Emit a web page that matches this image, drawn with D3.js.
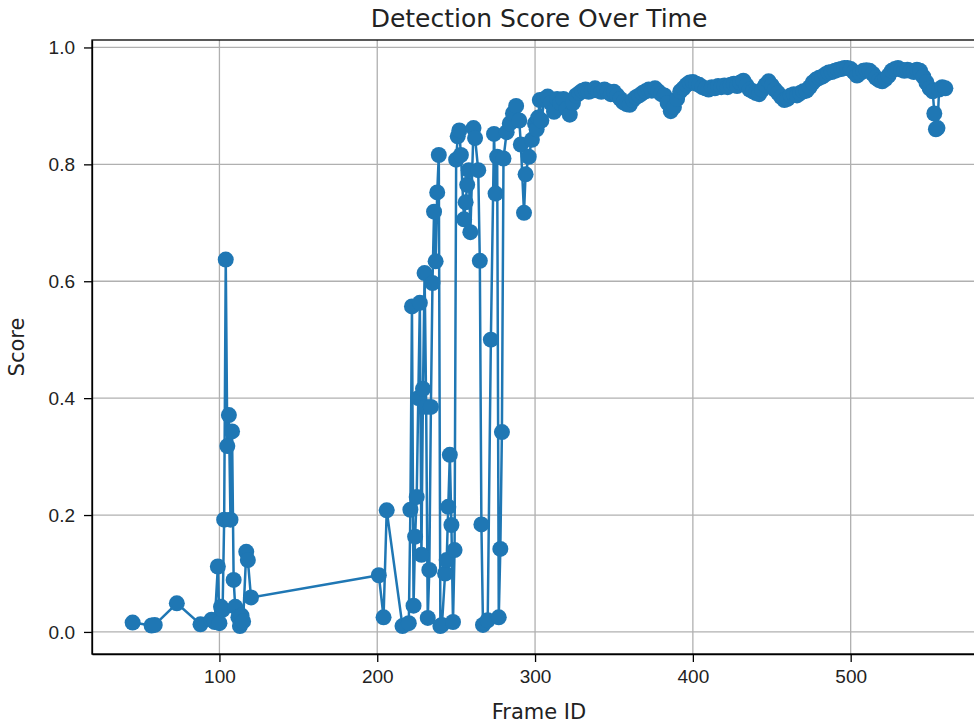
<!DOCTYPE html>
<html lang="en">
<head>
<meta charset="utf-8" />
<title>Detection Score Over Time</title>
<style>
html,body{margin:0;background:#fff}
svg{display:block;font-family:"DejaVu Sans",sans-serif}
.grid line{stroke:#b0b0b0;stroke-width:1.3px}
.axis path,.axis line{stroke:#000;stroke-width:1.3px}
.axis text{fill:#222;font-size:19px}
</style>
<script src="https://cdn.jsdelivr.net/npm/d3@7/dist/d3.min.js"></script>
</head>
<body>
<script>
/* ---------------------------- data ----------------------------------- */
const frames = [
  45,57,59,73,88,95,97,99,100,101,102,103,104,105,106,107,108,109,110,112,113,114,115,117,118,120,
  201,204,206,216,220,221,222,223,224,225,226,227,228,229,230,231,232,233,234,235,236,237,238,239,
  240,241,243,244,245,246,247,248,249,250,251,252,253,255,256,257,258,259,261,262,264,265,266,267,
  270,272,274,275,276,277,278,279,280,282,284,286,288,290,291,293,294,296,298,300,301,302,
  303,304,306,308,310,312,314,316,318,320,322,324,326,328,330,332,334,336,338,340,342,344,346,348,
  350,352,354,356,358,360,362,364,366,368,370,372,374,376,378,380,382,384,386,388,390,392,394,396,
  398,400,402,404,406,408,410,412,414,416,418,420,422,424,426,428,430,432,434,436,438,440,442,444,
  446,448,450,452,454,456,458,460,462,464,466,468,470,472,474,476,478,480,482,484,486,488,490,492,
  494,496,498,500,502,504,506,508,510,512,514,516,518,520,522,524,526,528,530,532,534,536,538,540,
  542,544,546,548,550,552,553,554,555,556,558,560
];
const scores = [
  0.016,0.011,0.012,0.049,0.013,0.021,0.017,0.112,0.015,0.043,0.038,0.192,0.637,0.318,0.371,0.192,0.343,0.089,0.043,0.025,0.010,0.028,0.018,0.137,0.123,0.059,
  0.097,0.025,0.208,0.010,0.015,0.209,0.557,0.045,0.163,0.231,0.400,0.563,0.132,0.416,0.614,0.385,0.024,0.106,0.385,0.597,0.719,0.634,0.752,0.816,
  0.010,0.012,0.100,0.123,0.214,0.303,0.183,0.017,0.140,0.808,0.848,0.858,0.816,0.706,0.735,0.765,0.790,0.684,0.862,0.845,0.790,0.635,0.184,0.012,
  0.020,0.500,0.852,0.750,0.813,0.025,0.142,0.342,0.810,0.855,0.870,0.887,0.900,0.875,0.834,0.717,0.783,0.813,0.842,0.870,0.860,0.880,
  0.910,0.875,0.912,0.916,0.905,0.890,0.912,0.905,0.912,0.895,0.885,0.905,0.918,0.922,0.926,0.928,0.924,0.926,0.930,0.926,0.924,0.928,0.925,0.920,
  0.924,0.918,0.912,0.906,0.903,0.902,0.910,0.915,0.918,0.922,0.925,0.928,0.926,0.930,0.925,0.920,0.918,0.905,0.891,0.898,0.912,0.925,0.930,0.936,
  0.940,0.941,0.938,0.936,0.932,0.930,0.928,0.932,0.930,0.934,0.932,0.935,0.932,0.936,0.938,0.934,0.940,0.943,0.935,0.928,0.925,0.922,0.920,0.928,
  0.936,0.942,0.935,0.928,0.922,0.915,0.910,0.912,0.918,0.920,0.918,0.922,0.925,0.926,0.932,0.940,0.945,0.948,0.950,0.954,0.957,0.958,0.960,0.962,
  0.963,0.965,0.965,0.963,0.958,0.952,0.956,0.960,0.961,0.960,0.955,0.948,0.944,0.942,0.946,0.952,0.960,0.963,0.965,0.962,0.960,0.962,0.960,0.958,
  0.962,0.960,0.950,0.940,0.930,0.925,0.887,0.860,0.862,0.928,0.932,0.930
];
const xTicks = [100, 200, 300, 400, 500];
const yTicks = [0.0, 0.2, 0.4, 0.6, 0.8, 1.0];

const points = frames.map((f, i) => ({frame: f, score: scores[i]}));

/* --------------------------- layout ---------------------------------- */
const W = 974, H = 726;
const m = {left: 92, right: 986, top: 40, bottom: 654};

function padded(ext) {              // matplotlib style 5% margins
  const p = (ext[1] - ext[0]) * 0.05;
  return [ext[0] - p, ext[1] + p];
}

const x = d3.scaleLinear().domain(padded(d3.extent(frames))).range([m.left, m.right]);
const y = d3.scaleLinear().domain(padded(d3.extent(scores))).range([m.bottom, m.top]);

const svg = d3.select("body").append("svg").attr("width", W).attr("height", H);

/* grid */
const grid = svg.append("g").attr("class", "grid");
grid.selectAll(".gx").data(xTicks).join("line")
    .attr("x1", d => x(d)).attr("x2", d => x(d))
    .attr("y1", m.top).attr("y2", m.bottom);
grid.selectAll(".gy").data(yTicks).join("line").attr("class", "gy")
    .attr("x1", m.left).attr("x2", m.right)
    .attr("y1", d => y(d)).attr("y2", d => y(d));

/* series */
const plot = svg.append("g");
plot.append("path").datum(points)
    .attr("fill", "none").attr("stroke", "#1f77b4").attr("stroke-width", 2.5)
    .attr("stroke-linejoin", "round")
    .attr("d", d3.line().x(d => x(d.frame)).y(d => y(d.score)));
plot.selectAll("circle").data(points).join("circle")
    .attr("cx", d => x(d.frame)).attr("cy", d => y(d.score))
    .attr("r", 8).attr("fill", "#1f77b4");

/* axes */
svg.append("g").attr("class", "axis")
   .attr("transform", `translate(0,${m.bottom})`)
   .call(d3.axisBottom(x).tickValues(xTicks).tickSizeInner(8).tickSizeOuter(0).tickPadding(8).tickFormat(d3.format("d")));
svg.append("g").attr("class", "axis")
   .attr("transform", `translate(${m.left},0)`)
   .call(d3.axisLeft(y).tickValues(yTicks).tickSizeInner(8).tickSizeOuter(0).tickPadding(9).tickFormat(d3.format(".1f")));

/* frame */
svg.append("rect")
   .attr("x", m.left).attr("y", m.top)
   .attr("width", m.right - m.left).attr("height", m.bottom - m.top)
   .attr("fill", "none").attr("stroke", "#000").attr("stroke-width", 1.3);

/* labels */
svg.append("text").attr("x", (m.left + m.right) / 2).attr("y", 27)
   .attr("text-anchor", "middle").attr("font-size", 25).attr("fill", "#222").text("Detection Score Over Time");
svg.append("text").attr("x", (m.left + m.right) / 2).attr("y", 719)
   .attr("text-anchor", "middle").attr("font-size", 21).attr("fill", "#222").text("Frame ID");
svg.append("text").attr("transform", `translate(24,${(m.top + m.bottom) / 2}) rotate(-90)`)
   .attr("text-anchor", "middle").attr("font-size", 21).attr("fill", "#222").text("Score");
</script>
</body>
</html>
